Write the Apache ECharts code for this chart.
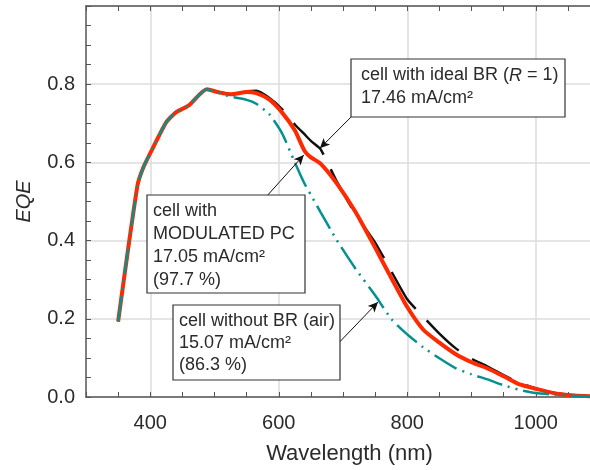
<!DOCTYPE html>
<html>
<head>
<meta charset="utf-8">
<script src="https://cdn.jsdelivr.net/npm/echarts@6/dist/echarts.min.js"></script>
<style>
  html, body { margin: 0; padding: 0; background: #fff; }
  #chart { width: 590px; height: 470px; }
</style>
</head>
<body>
<div id="chart"></div>
<script>
// wavelengths (nm), shared by all three curves
const wavelength = [350, 380, 390, 405, 425, 440, 460, 488, 505, 525, 550, 565, 585, 605, 625, 640, 650, 665, 690, 720, 750, 775, 800, 825, 850, 875, 900, 925, 950, 975, 1000, 1030, 1060, 1100];

// cell with ideal BR (R = 1)
const eqeIdeal = [0.193, 0.54, 0.59, 0.64, 0.703, 0.728, 0.746, 0.787, 0.780, 0.775, 0.782, 0.783, 0.765, 0.736, 0.697, 0.672, 0.655, 0.634, 0.552, 0.466, 0.395, 0.322, 0.250, 0.205, 0.162, 0.125, 0.098, 0.078, 0.056, 0.036, 0.022, 0.010, 0.004, 0.001];
// cell with modulated PC
const eqeModulated = [0.193, 0.54, 0.59, 0.64, 0.703, 0.728, 0.746, 0.787, 0.780, 0.774, 0.780, 0.777, 0.761, 0.728, 0.682, 0.630, 0.613, 0.597, 0.547, 0.472, 0.382, 0.305, 0.230, 0.172, 0.139, 0.110, 0.089, 0.073, 0.053, 0.032, 0.021, 0.009, 0.004, 0.001];
// cell without BR (air)
const eqeAir = [0.193, 0.54, 0.59, 0.64, 0.703, 0.728, 0.746, 0.787, 0.778, 0.768, 0.760, 0.750, 0.724, 0.675, 0.600, 0.546, 0.517, 0.473, 0.402, 0.327, 0.260, 0.200, 0.160, 0.127, 0.099, 0.074, 0.058, 0.045, 0.030, 0.018, 0.010, 0.006, 0.003, 0.001];

const xLabels = [400, 600, 800, 1000];
const yLabels = [0.0, 0.2, 0.4, 0.6, 0.8];

const toPairs = ys => wavelength.map((w, i) => [w, ys[i]]);

const axisColor = '#555';
const textColor = '#2b2b2b';
const font = 'Liberation Sans, Arial, sans-serif';

const chart = echarts.init(document.getElementById('chart'), null, { renderer: 'canvas' });

const xCommon = {
  type: 'value', min: 300, max: 1100, interval: 100,
  axisLine: { show: true, onZero: false, lineStyle: { color: axisColor, width: 1.5 } },
  axisTick: { show: true, inside: true, length: 5, lineStyle: { color: axisColor, width: 1 } },
  minorTick: { show: true, splitNumber: 2, length: 5, lineStyle: { color: axisColor, width: 1 } }
};

// annotation box: white rect with border and text on top of the curves
function box(x, y, w, h, pad, textStyle) {
  return {
    type: 'group',
    children: [
      { type: 'rect', z: 100, shape: { x: x, y: y, width: w, height: h }, style: { fill: '#fff', stroke: '#333', lineWidth: 1.2 } },
      { type: 'text', z: 101, x: x + pad, y: y + 5, style: textStyle }
    ]
  };
}

const option = {
  animation: false,
  backgroundColor: '#fff',
  grid: { left: 86, top: 6, right: -10, bottom: 73, outerBoundsMode: 'none' },
  xAxis: [
    Object.assign({}, xCommon, {
      position: 'bottom',
      name: 'Wavelength (nm)', nameLocation: 'middle', nameGap: 46,
      nameTextStyle: { fontSize: 22, color: textColor, fontFamily: font, padding: [0, 0, 0, 13] },
      axisLabel: {
        fontSize: 20, color: textColor, fontFamily: font, margin: 16,
        formatter: v => (xLabels.indexOf(v) >= 0 ? String(v) : '')
      },
      splitLine: { show: true, lineStyle: { color: ['rgba(0,0,0,0)', '#dcdcdc'], width: 1.5 } }
    }),
    Object.assign({}, xCommon, {
      position: 'top',
      axisLabel: { show: false },
      splitLine: { show: false }
    })
  ],
  yAxis: {
    type: 'value', min: 0, max: 1, interval: 0.2,
    name: 'EQE', nameLocation: 'middle', nameGap: 52,
    nameTextStyle: { fontSize: 20, fontStyle: 'italic', color: textColor, fontFamily: font },
    axisLine: { show: true, lineStyle: { color: axisColor, width: 1.5 } },
    axisTick: { show: true, inside: true, length: 5, lineStyle: { color: axisColor, width: 1 } },
    minorTick: { show: true, splitNumber: 4, length: 5, lineStyle: { color: axisColor, width: 1 } },
    axisLabel: {
      fontSize: 20, color: textColor, fontFamily: font, margin: 11,
      formatter: v => {
        const hit = yLabels.find(t => Math.abs(t - v) < 1e-6);
        return hit === undefined ? '' : hit.toFixed(1);
      }
    },
    splitLine: { show: true, lineStyle: { color: '#dcdcdc', width: 1.5 } }
  },
  series: [
    {
      name: 'ideal BR', type: 'line', data: toPairs(eqeIdeal), symbol: 'none', smooth: 0.2,
      lineStyle: { color: '#111', width: 2.5, type: [44, 16] }
    },
    {
      name: 'modulated PC', type: 'line', data: toPairs(eqeModulated), symbol: 'none', smooth: 0.2,
      lineStyle: { color: '#ff2a00', width: 4 }
    },
    {
      name: 'without BR', type: 'line', data: toPairs(eqeAir), symbol: 'none', smooth: 0.2,
      lineStyle: { color: '#05908f', width: 2.5, type: [26, 6, 2, 6, 2, 6] },
      markLine: {
        silent: true, symbol: ['none', 'arrow'], symbolSize: [7, 10],
        label: { show: false },
        lineStyle: { color: '#111', width: 1, type: 'solid' },
        data: [
          [{ coord: [712.5, 0.716] }, { coord: [664, 0.636] }],
          [{ coord: [581.5, 0.514] }, { coord: [639, 0.619] }],
          [{ coord: [692, 0.136] }, { coord: [754.5, 0.243] }]
        ]
      }
    }
  ],
  graphic: [
    box(351, 59, 214, 58, 10, {
      text: '{a|cell with ideal BR (}{i|R}{a| = 1)}\n{a|17.46 mA/cm²}',
      rich: {
        a: { fontSize: 18, fontFamily: font, fill: textColor, lineHeight: 23 },
        i: { fontSize: 18, fontFamily: font, fill: textColor, fontStyle: 'italic', lineHeight: 23 }
      }
    }),
    box(147, 195, 158, 98, 6, {
      text: 'cell with\nMODULATED PC\n17.05 mA/cm²\n(97.7 %)', fontSize: 18, fontFamily: font, fill: textColor, lineHeight: 23
    }),
    box(173, 305, 167, 75, 6, {
      text: 'cell without BR (air)\n15.07 mA/cm²\n(86.3 %)', fontSize: 18, fontFamily: font, fill: textColor, lineHeight: 22
    })
  ]
};

chart.setOption(option);
</script>
</body>
</html>
